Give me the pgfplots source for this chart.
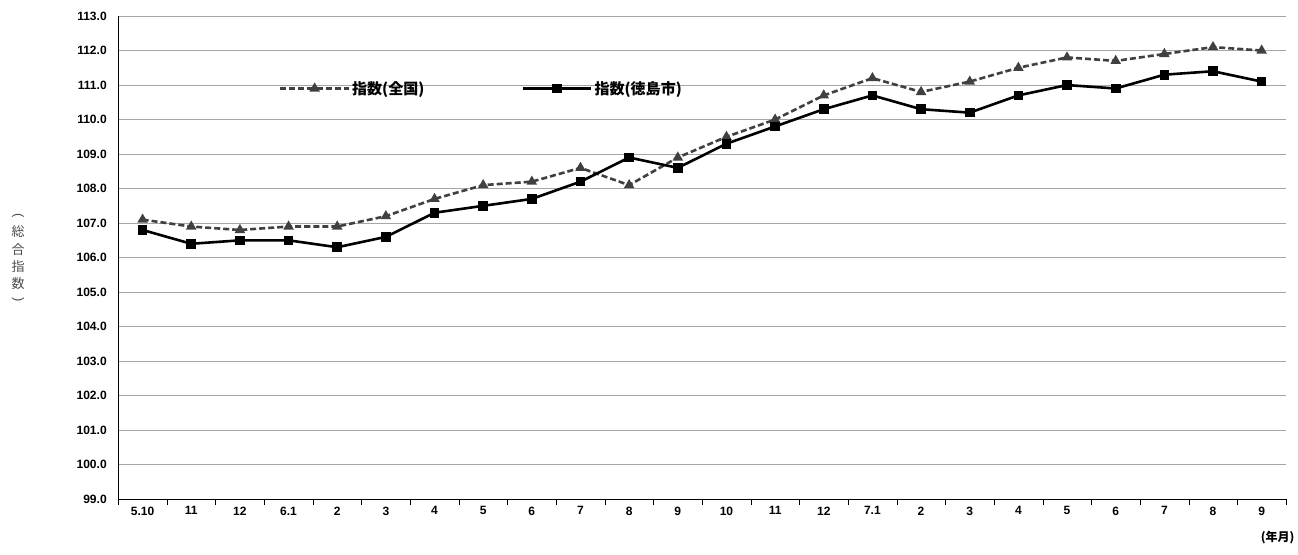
\documentclass[border=0pt]{standalone}
\usepackage{pgfplots}
\pgfplotsset{compat=1.18}
\usepackage{fontspec}
\setmainfont{Liberation Sans}
\newfontfamily\cjk{Noto Sans CJK JP}
\begin{document}
\begin{tikzpicture}
\begin{axis}[
  width=1165pt, height=482pt, scale only axis,
  xmin=-0.5, xmax=23.5, ymin=99, ymax=113,
  ytick={99,100,...,113},
  yticklabel style={/pgf/number format/fixed,/pgf/number format/fixed zerofill,/pgf/number format/precision=1,xshift=-2pt},
  /pgf/number format/assume math mode=true,
  ymajorgrids, grid style={gray!70},
  xtick={-0.5,0.5,...,23.5}, xticklabels={},
  major tick length=6pt, xtick style={black}, tick align=outside,
  extra x ticks={0,...,23},
  extra x tick labels={5.10,11,12,6.1,2,3,4,5,6,7,8,9,10,11,12,7.1,2,3,4,5,6,7,8,9},
  extra x tick style={xtick style={draw=none}, major tick length=0pt, grid=none},
  ytick style={draw=none},
  axis x line*=bottom, axis y line*=left,
  tick label style={font=\fontsize{12}{14}\selectfont\bfseries},
  xticklabel style={yshift=-4pt},
  legend style={draw=none, fill=none, at={(0.135,0.85)}, anchor=west, legend columns=2, font=\cjk\fontsize{15}{17}\selectfont\bfseries,
    /tikz/every even column/.append style={column sep=95pt}},
  legend image code/.code={\draw[#1] (0cm,0cm) -- (2.4cm,0cm); \draw[#1,mark repeat=1] plot coordinates {(1.2cm,0cm)};},
  clip=false,
]
\addplot[dashed, dash pattern=on 6pt off 3pt, line width=2.6pt, color=black!75, mark=triangle*, mark size=3.5pt, mark options={solid}]
coordinates {(0,107.1)(1,106.9)(2,106.8)(3,106.9)(4,106.9)(5,107.2)(6,107.7)(7,108.1)(8,108.2)(9,108.6)(10,108.1)(11,108.9)(12,109.5)(13,110.0)(14,110.7)(15,111.2)(16,110.8)(17,111.1)(18,111.5)(19,111.8)(20,111.7)(21,111.9)(22,112.1)(23,112.0)};
\addlegendentry{指数(全国)}
\addplot[solid, line width=2.6pt, color=black, mark=square*, mark size=3.5pt]
coordinates {(0,106.8)(1,106.4)(2,106.5)(3,106.5)(4,106.3)(5,106.6)(6,107.3)(7,107.5)(8,107.7)(9,108.2)(10,108.9)(11,108.6)(12,109.3)(13,109.8)(14,110.3)(15,110.7)(16,110.3)(17,110.2)(18,110.7)(19,111.0)(20,110.9)(21,111.3)(22,111.4)(23,111.1)};
\addlegendentry{指数(徳島市)}
\node[font=\cjk\fontsize{13}{17}\selectfont, text=black!70, align=center, inner sep=0pt] at ([xshift=-100pt]rel axis cs:0,0.5) {総\\合\\指\\数};
\node[font=\fontsize{13}{17}\selectfont, text=black!70, rotate=-90, inner sep=0pt] at ([xshift=-100pt,yshift=42pt]rel axis cs:0,0.5) {(};
\node[font=\fontsize{13}{17}\selectfont, text=black!70, rotate=-90, inner sep=0pt] at ([xshift=-100pt,yshift=-42pt]rel axis cs:0,0.5) {)};
\path ([xshift=-118pt]rel axis cs:0,1) -- ([xshift=12pt]rel axis cs:1,0);
\path ([yshift=16pt]rel axis cs:0,1) -- ([yshift=-55pt]rel axis cs:0,0);
\node[font=\cjk\fontsize{12}{14}\selectfont\bfseries, anchor=base east] at ([xshift=12pt,yshift=-42pt]rel axis cs:1,0) {(年月)};
\end{axis}
\end{tikzpicture}
\end{document}
